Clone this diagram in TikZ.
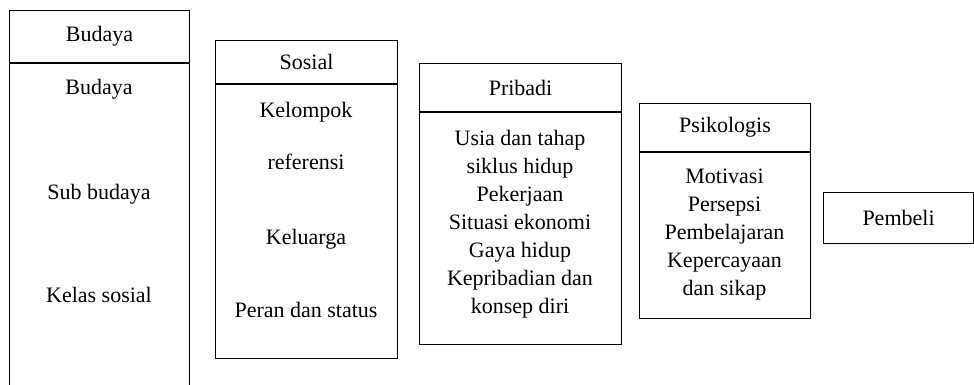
\documentclass[tikz,border=0pt]{standalone}
\usepackage{fontspec}
\setmainfont{Liberation Serif}
\usetikzlibrary{positioning}

\begin{document}
\begin{tikzpicture}[
  x=1pt,
  y=-1pt,
  node distance=0pt,
  box/.style={
    draw,
    line width=1.1pt,
    inner sep=0pt,
    align=center,
    font=\fontsize{22}{28}\selectfont
  },
  item/.style={
    align=center,
    inner sep=0pt,
    text height=0.68em,
    text depth=0.2em,
    font=\fontsize{22}{28}\selectfont
  }
]
\useasboundingbox (0,0) rectangle (974,385);

\node[box,anchor=north west,minimum width=180pt,minimum height=52pt] (budH) at (9,10) {Budaya};
\node[box,below=of budH,minimum width=180pt,minimum height=340pt] (budB) {};
\node[item] (bud1) at (99,92) {Budaya};
\node[item] (bud2) at (99,197) {Sub budaya};
\node[item] (bud3) at (99,300) {Kelas sosial};

\node[box,anchor=north west,minimum width=182pt,minimum height=43pt] (sosH) at (215,40) {Sosial};
\node[box,below=of sosH,minimum width=182pt,minimum height=274pt] (sosB) {};
\node[item] (sos1) at (306,115) {Kelompok};
\node[item] (sos2) at (306,167) {referensi};
\node[item] (sos3) at (306,242) {Keluarga};
\node[item] (sos4) at (306,315) {Peran dan status};

\node[box,anchor=north west,minimum width=202pt,minimum height=48pt] (priH) at (419,63) {Pribadi};
\node[box,below=of priH,minimum width=202pt,minimum height=232pt] (priB) {};
\node[item,text height=,text depth=] (pri1) at (520,224) {Usia dan tahap\\siklus hidup\\Pekerjaan\\Situasi ekonomi\\Gaya hidup\\Kepribadian dan\\konsep diri};

\node[box,anchor=north west,minimum width=171pt,minimum height=48pt] (psiH) at (639,103) {Psikologis};
\node[box,below=of psiH,minimum width=171pt,minimum height=166pt] (psiB) {};
\node[item,text height=,text depth=] (psi1) at (724.5,235) {Motivasi\\Persepsi\\Pembelajaran\\Kepercayaan\\dan sikap};

\node[box,anchor=north west,minimum width=150pt,minimum height=51pt] (beli) at (823,192) {Pembeli};
\end{tikzpicture}
\end{document}
